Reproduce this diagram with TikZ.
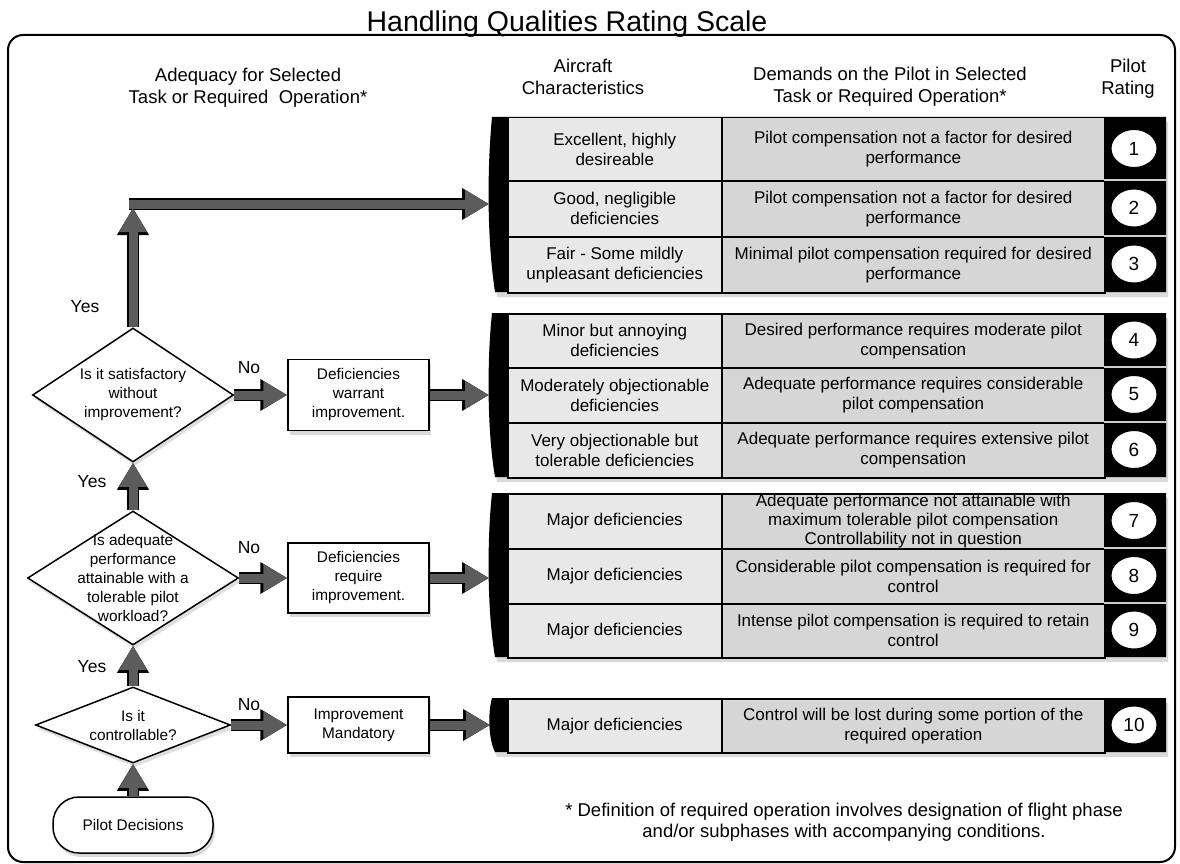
\documentclass[tikz,border=0pt]{standalone}
\usepackage{fontspec}
\setmainfont{Liberation Sans}
\usetikzlibrary{arrows.meta,shapes.geometric,shadows,positioning}
\definecolor{cellA}{gray}{0.91}
\definecolor{cellB}{gray}{0.84}
\definecolor{shaft}{gray}{0.36}

\begin{document}
\begin{tikzpicture}[x=1pt, y=-1pt,
    txt/.style      = {font=\fontsize{17}{20}\selectfont, align=center},
    head/.style     = {font=\fontsize{18.5}{22}\selectfont, align=center},
    small/.style    = {font=\fontsize{15.4}{19}\selectfont, align=center},
    cellone/.style  = {txt, draw, line width=1.5pt, fill=cellA, anchor=north west,
                       minimum width=214pt, inner sep=0pt},
    celltwo/.style  = {txt, draw, line width=1.5pt, fill=cellB, anchor=north west,
                       minimum width=383pt, inner sep=0pt},
    rating/.style   = {ellipse, draw, line width=1pt, fill=white, minimum width=46pt,
                       minimum height=38pt, inner sep=0pt, font=\fontsize{19}{19}\selectfont},
    group/.style    = {fill=black, drop shadow={shadow xshift=2pt, shadow yshift=-5pt, opacity=.3}},
    decision/.style = {diamond, draw, line width=1.5pt, fill=white, inner sep=0pt,
                       drop shadow={shadow xshift=2pt, shadow yshift=-4pt, opacity=.25}},
    action/.style   = {small, draw, line width=1.5pt, fill=white, minimum width=141pt,
                       drop shadow={shadow xshift=2pt, shadow yshift=-4pt, opacity=.3}},
    answer/.style   = {font=\fontsize{17.5}{17.5}\selectfont},
    fat/.style      = {draw=shaft, line width=9pt, -{Triangle[width=26pt,length=24pt]},
                       preaction={draw=black, line width=11.5pt, -{Triangle[width=30pt,length=27pt]}}},
  ]
  \useasboundingbox (0,0) rectangle (1180,864);

  \draw[line width=2pt, rounded corners=15pt] (8,35) rectangle (1175,862);
  \node[font=\fontsize{28.5}{30}\selectfont, anchor=base] (title) at (567,32) {Handling Qualities Rating Scale};

  \node[head] (hadequacy) at (248,88) {Adequacy for Selected\\Task or Required\ \ Operation*};
  \node[head] (haircraft) at (583,77) {Aircraft\\Characteristics};
  \node[head] (hdemands)  at (890,87) {Demands on the Pilot in Selected\\Task or Required Operation*};
  \node[head] (hrating)   at (1128,79) {Pilot\\Rating};

  \fill[group] (492,117) -- (1166,117) -- (1166,292) -- (495,292) .. controls (487,240) and (487,170) .. cycle;
  \node[cellone, minimum height=63pt] (ac1) at (507,117) {Excellent, highly\\desireable};
  \node[celltwo, minimum height=63pt] (dm1) at (721,117) {Pilot compensation not a factor for desired\\performance};
  \node[cellone, minimum height=56pt] (ac2) at (507,180) {Good, negligible\\deficiencies};
  \node[celltwo, minimum height=56pt] (dm2) at (721,180) {Pilot compensation not a factor for desired\\performance};
  \node[cellone, minimum height=56pt] (ac3) at (507,236) {Fair - Some mildly\\unpleasant deficiencies};
  \node[celltwo, minimum height=56pt] (dm3) at (721,236) {Minimal pilot compensation required for desired\\performance};
  \draw[gray!40, line width=1.2pt] (1104,180) -- (1166,180);
  \draw[gray!40, line width=1.2pt] (1104,236) -- (1166,236);
  \node[rating] (pr1) at (1134,148.5) {1};
  \node[rating] (pr2) at (1134,208) {2};
  \node[rating] (pr3) at (1134,264) {3};

  \fill[group] (492,313) -- (1166,313) -- (1166,477) -- (495,477) .. controls (487,430) and (487,360) .. cycle;
  \node[cellone, minimum height=54pt] (ac4) at (507,313) {Minor but annoying\\deficiencies};
  \node[celltwo, minimum height=54pt] (dm4) at (721,313) {Desired performance requires moderate pilot\\compensation};
  \node[cellone, minimum height=55pt] (ac5) at (507,367) {Moderately objectionable\\deficiencies};
  \node[celltwo, minimum height=55pt] (dm5) at (721,367) {Adequate performance requires considerable\\pilot compensation};
  \node[cellone, minimum height=55pt] (ac6) at (507,422) {Very objectionable but\\tolerable deficiencies};
  \node[celltwo, minimum height=55pt] (dm6) at (721,422) {Adequate performance requires extensive pilot\\compensation};
  \draw[gray!40, line width=1.2pt] (1104,367) -- (1166,367);
  \draw[gray!40, line width=1.2pt] (1104,422) -- (1166,422);
  \node[rating] (pr4) at (1134,340) {4};
  \node[rating] (pr5) at (1134,394.5) {5};
  \node[rating] (pr6) at (1134,449.5) {6};

  \fill[group] (492,493) -- (1166,493) -- (1166,657) -- (495,657) .. controls (487,610) and (487,540) .. cycle;
  \node[cellone, minimum height=55pt] (ac7) at (507,493) {Major deficiencies};
  \node[celltwo, minimum height=55pt, font=\fontsize{17}{19}\selectfont] (dm7) at (721,493) {Adequate performance not attainable with\\maximum tolerable pilot compensation\\Controllability not in question};
  \node[cellone, minimum height=55pt] (ac8) at (507,548) {Major deficiencies};
  \node[celltwo, minimum height=55pt] (dm8) at (721,548) {Considerable pilot compensation is required for\\control};
  \node[cellone, minimum height=54pt] (ac9) at (507,603) {Major deficiencies};
  \node[celltwo, minimum height=54pt] (dm9) at (721,603) {Intense pilot compensation is required to retain\\control};
  \draw[gray!40, line width=1.2pt] (1104,548) -- (1166,548);
  \draw[gray!40, line width=1.2pt] (1104,603) -- (1166,603);
  \node[rating] (pr7) at (1134,520.5) {7};
  \node[rating] (pr8) at (1134,575.5) {8};
  \node[rating] (pr9) at (1134,630) {9};

  \fill[group] (492,698) -- (1166,698) -- (1166,752) -- (495,752) .. controls (488,738) and (488,712) .. cycle;
  \node[cellone, minimum height=54pt] (ac10) at (507,698) {Major deficiencies};
  \node[celltwo, minimum height=54pt] (dm10) at (721,698) {Control will be lost during some portion of the\\required operation};
  \node[rating] (pr10) at (1134,725) {10};

  \node[decision, minimum width=201pt, minimum height=134pt] (satisfactory) at (133,395) {};
  \node[small] (satisfactorytext) at (satisfactory) {Is it satisfactory\\without\\improvement?};
  \node[decision, minimum width=211pt, minimum height=134pt] (adequate) at (133,578) {};
  \node[small] (adequatetext) at (adequate) {Is adequate\\performance\\attainable with a\\tolerable pilot\\workload?};
  \node[decision, minimum width=195pt, minimum height=76pt] (controllable) at (133,725) {};
  \node[small] (controllabletext) at (controllable) {Is it\\controllable?};
  \node[action, rounded corners=26pt, minimum width=160pt, minimum height=56pt] (decisions) at (133,825) {Pilot Decisions};

  \node[action, minimum height=71pt] (warrant)   at (358.5,395) {Deficiencies\\warrant\\improvement.};
  \node[action, minimum height=70pt] (require)   at (358.5,578) {Deficiencies\\require\\improvement.};
  \node[action, minimum height=56pt] (mandatory) at (358.5,725) {Improvement\\Mandatory};

  \coordinate (turn) at (133,204);
  \coordinate (g1)   at (489,204);
  \coordinate (g2)   at (489,395);
  \coordinate (g3)   at (489,578);
  \coordinate (g4)   at (490,725);

  \draw[fat, shorten <=-4.5pt] (turn) -- (g1);
  \draw[fat, shorten >=4pt]    (satisfactory) -- (turn);
  \draw[fat] (adequate) -- (satisfactory);
  \draw[fat] (controllable) -- (adequate);
  \draw[fat] (decisions) -- (controllable);
  \draw[fat] (satisfactory) -- (warrant);
  \draw[fat] (adequate) -- (require);
  \draw[fat] (controllable) -- (mandatory);
  \draw[fat] (warrant) -- (g2);
  \draw[fat] (require) -- (g3);
  \draw[fat] (mandatory) -- (g4);

  \node[answer] (yes1) at (85,307) {Yes};
  \node[answer] (yes2) at (92,482) {Yes};
  \node[answer] (yes3) at (92,667) {Yes};
  \node[answer] (no1)  at (249,368) {No};
  \node[answer] (no2)  at (249,548) {No};
  \node[answer] (no3)  at (249,705) {No};

  \node[font=\fontsize{18.5}{21}\selectfont, align=center] (footnote) at (844,822)
    {* Definition of required operation involves designation of flight phase\\and/or subphases with accompanying conditions.};
\end{tikzpicture}
\end{document}
